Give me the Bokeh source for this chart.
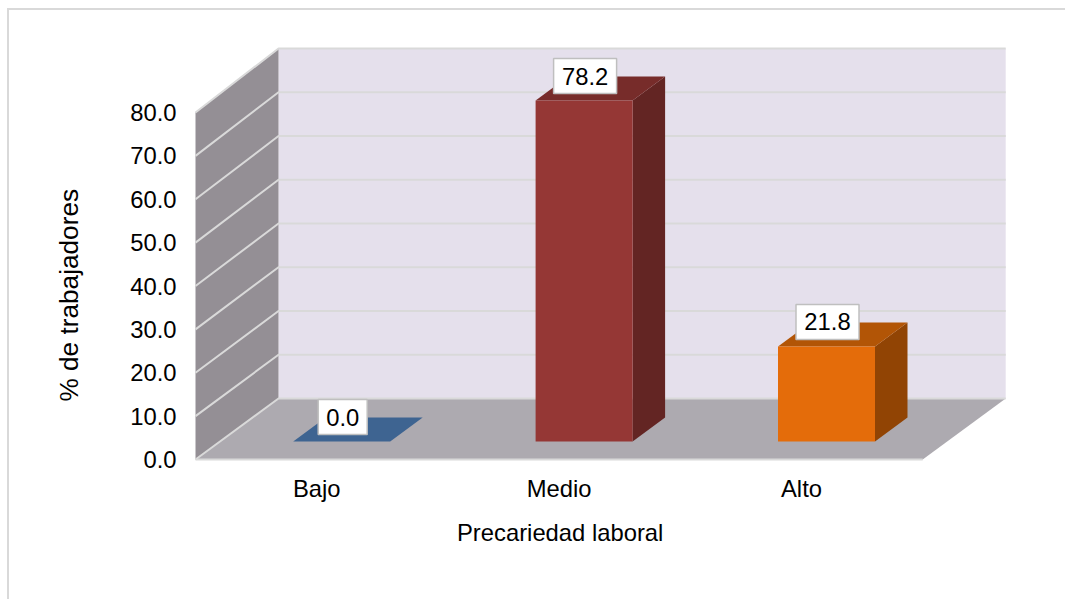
from bokeh.plotting import figure
from bokeh.models import Range1d, FixedTicker, NumeralTickFormatter, Title
from bokeh.embed import file_html
from bokeh.resources import INLINE
from bokeh.core.properties import value

categories = ["Bajo", "Medio", "Alto"]
values = [0.0, 78.2, 21.8]
y_ticks = [0, 10, 20, 30, 40, 50, 60, 70, 80]
front_colors = ["#3E6491", "#953735", "#E46C0A"]
top_colors = ["#3E6491", "#772C2A", "#B25506"]
side_colors = ["#335378", "#632523", "#914404"]
box_widths = [49, 63, 63]
x_title = "Precariedad laboral"
y_title = "% de trabajadores"

# Geometry of the oblique projection, in pixels
W, H = 1058, 591
PX_X = 242.4          # pixels per category
PX_Y = 4.3375         # pixels per value unit
DEPTH_X, DEPTH_Y = 83.0, 61.0
BAR_W, BAR_DX, BAR_DY = 97.0, 32.5, 24.0
OFF_X, OFF_Y = 25.0, 18.0
BACK_SCALE = 1.0086
BAR_SCALE = 1.005
FONT = "Liberation Sans"
FS = "23.8px"
GRID = "#D9D9D9"

dx = lambda px: px / PX_X
dy = lambda px: px / PX_Y

L, B = 184, 140
p = figure(
    width=W, height=H, output_backend="svg", toolbar_location=None,
    x_range=Range1d(dx(-2), dx(W - L - 2)),
    y_range=Range1d(dy(-2), dy(H - B - 2)),
    min_border_left=L, min_border_bottom=B, min_border_top=0, min_border_right=0,
    outline_line_color=None, background_fill_color="white", border_fill_color="white",
)
p.grid.visible = False
p.styles = {"border-top": "2px solid #D9D9D9", "border-left": "2px solid #D9D9D9",
            "margin-left": "7px", "margin-top": "8px"}

n = len(categories)
dxd, dyd = dx(DEPTH_X), dy(DEPTH_Y)
top = max(y_ticks)
back_top = dyd + top * BACK_SCALE

# Walls and floor
p.patch([dxd, n + dxd, n + dxd, dxd], [dyd, dyd, back_top, back_top], color="#E5E0EC", line_width=0)
p.patch([0, dxd, dxd, 0], [0, dyd, back_top, top], color="#948F95", line_width=0)
p.patch([0, n, n + dxd, dxd], [0, 0, dyd, dyd], color="#ADAAB0", line_width=0)

# Grid lines on the walls
for t in y_ticks:
    yb = dyd + t * BACK_SCALE
    p.line([0, dxd, n + dxd], [t, yb, yb], line_color=GRID, line_width=2)
p.line([0, n], [0, 0], line_color=GRID, line_width=2)

# Bars
ox, oy = dx(OFF_X), dy(OFF_Y)
hw = dx(BAR_W) / 2
bdx, bdy = dx(BAR_DX), dy(BAR_DY)
xs_c = [i + 0.5 + ox for i in range(n)]
for xc, v, cf, ct, cs in zip(xs_c, values, front_colors, top_colors, side_colors):
    x0, x1, y0, y1 = xc - hw, xc + hw, oy, oy + v * BAR_SCALE
    p.patch([x1, x1 + bdx, x1 + bdx, x1], [y0, y0 + bdy, y1 + bdy, y1], color=cs, line_width=0)
    p.patch([x0, x1, x1 + bdx, x0 + bdx], [y1, y1, y1 + bdy, y1 + bdy], color=ct, line_width=0)
    p.quad(left=x0, right=x1, bottom=y0, top=y1, color=cf, line_width=0)

# Data labels
lab_x = [x + dx(1) for x in xs_c]
lab_y = [oy + v * BAR_SCALE + dy(24.5) for v in values]
p.rect(lab_x, lab_y, width=box_widths, height=35, width_units="screen", height_units="screen",
       fill_color="white", line_color="#BFBFBF", line_width=1.5)
p.text(lab_x, lab_y, text=[f"{v:.1f}" for v in values], text_align="center", text_baseline="middle",
       text_font=value(FONT), text_font_size=FS, text_color="#000000")

# Axes
ya = p.yaxis[0]
ya.ticker = FixedTicker(ticks=y_ticks)
ya.formatter = NumeralTickFormatter(format="0.0")
xa = p.xaxis[0]
xa.ticker = FixedTicker(ticks=[i + 0.5 for i in range(n)])
xa.major_label_overrides = {i + 0.5: c for i, c in enumerate(categories)}
for a in (xa, ya):
    a.axis_line_color = None
    a.major_tick_line_color = None
    a.minor_tick_line_color = None
    a.major_tick_in = 0
    a.major_tick_out = 0
    a.major_label_text_font = FONT
    a.major_label_text_font_size = FS
    a.major_label_text_color = "#000000"
ya.major_label_standoff = 17
xa.major_label_standoff = 13

# Axis titles are centred on the floor and the wall, not on the frame
p.add_layout(Title(text=x_title, align="left", offset=263.5, standoff=25, text_font=FONT,
                   text_font_size=FS, text_font_style="normal", text_color="#000000"), "below")
p.add_layout(Title(text=y_title, align="left", offset=60, standoff=84, vertical_align="top", text_font=FONT,
                   text_font_size="26.2px", text_font_style="normal", text_color="#000000"), "left")

open("out.html", "w").write(file_html(p, INLINE))
